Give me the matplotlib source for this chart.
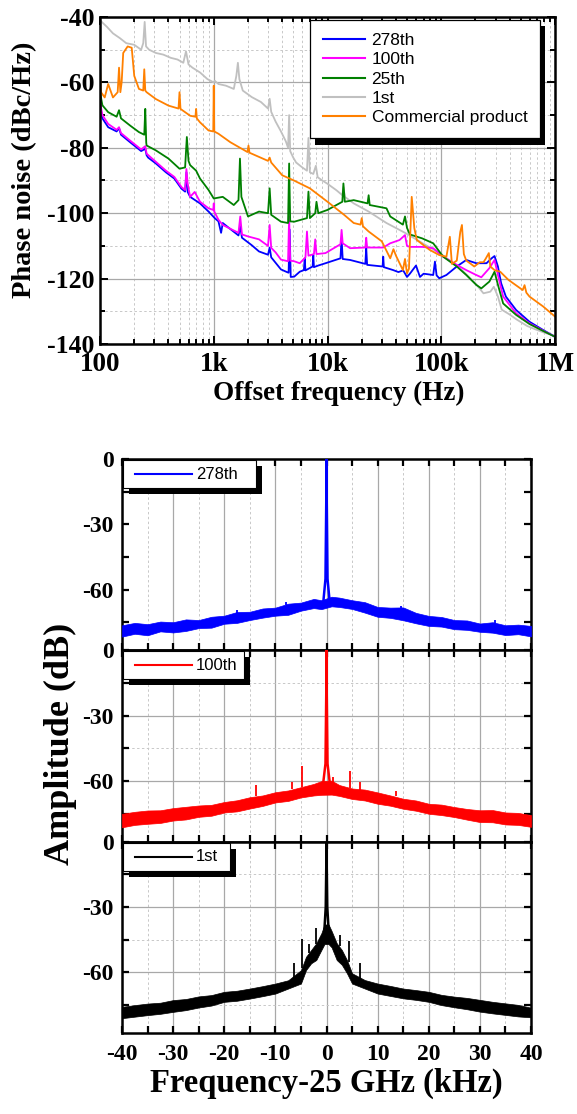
"""
Phase noise of the harmonics vs. a commercial synthesizer (top) and the
beat-note spectra around 25 GHz for three harmonics (bottom three panels).
"""

import numpy as np
import matplotlib as mpl
import matplotlib.pyplot as plt
from matplotlib.patches import Rectangle
from matplotlib.lines import Line2D
from matplotlib.ticker import MultipleLocator, FixedLocator, LogLocator, NullFormatter

# ---------------------------------------------------------------- top panel
# (offset frequency in Hz, phase noise in dBc/Hz)
PN_1ST = [
    (100, -41), (115, -43), (130, -45), (150, -46.5), (170, -48), (200, -48.5),
    (230, -50), (240, -48), (247, -41.5), (254, -49), (270, -50), (310, -51),
    (360, -51.5), (420, -52.5), (480, -53), (540, -54), (570, -50.5), (600, -54.5),
    (650, -55.5), (760, -57), (880, -59), (1000, -60), (1020, -59.5), (1100, -60.5),
    (1280, -61), (1500, -62), (1580, -58), (1630, -54), (1680, -59), (1800, -62.5),
    (2160, -64.5), (2600, -66), (3000, -68), (3100, -65), (3200, -69), (3500, -72),
    (3900, -75), (4300, -78), (4500, -80), (4600, -70), (4700, -81), (5000, -83),
    (5300, -84.5), (6000, -86), (6600, -87), (6800, -77), (7000, -87.5), (7500, -88),
    (7900, -85.5), (8200, -89), (9000, -90), (10000, -91), (12000, -93),
    (13500, -94.5), (13800, -92), (14200, -95), (17000, -97), (23000, -99.5),
    (33000, -103), (48000, -106), (71000, -109.5), (100000, -112.5),
    (148000, -117), (200000, -121.5), (235000, -124.5), (270000, -124),
    (290000, -122.5), (315000, -125.5), (340000, -129.5), (400000, -131),
    (460000, -132.5), (570000, -134.5), (670000, -135.5), (800000, -136.5),
    (1000000, -137.5),
]

PN_278TH = [
    (100, -67), (105, -71), (118, -73.7), (140, -75), (147, -74), (153, -76),
    (184, -78.3), (230, -81), (250, -80.3), (257, -82.3), (265, -83), (310, -84.8),
    (380, -87.5), (450, -89.4), (520, -92.5), (560, -93.4), (575, -87.5),
    (590, -93.5), (620, -95), (757, -97), (900, -99.5), (1020, -101.5),
    (1100, -102.5), (1160, -106), (1200, -103), (1370, -104.6), (1650, -106.8),
    (1710, -104), (1770, -107.5), (2160, -109.8), (2500, -111.7), (3000, -112.7),
    (3100, -110.5), (3200, -113.5), (3900, -117.2), (4400, -118), (4550, -118.2),
    (4650, -105), (4750, -119.5), (5100, -119.4), (5700, -117.9), (6200, -117.4),
    (6300, -113.8), (6400, -117.5), (7400, -116.3), (7500, -112.8), (7600, -116.5),
    (8300, -116), (9600, -115.3), (13000, -113.8), (13300, -107.7), (13600, -114),
    (15800, -114.3), (21500, -115.5), (21900, -110.6), (22300, -115.8),
    (30500, -116.3), (30900, -113.3), (31300, -116.5), (37800, -117.4),
    (42000, -118), (46300, -117.5), (50000, -119.5), (53000, -118.5),
    (60000, -116), (65000, -119.5), (70000, -118.5), (85000, -118.9),
    (88000, -114.8), (91000, -119), (96000, -119.9), (111000, -118.9),
    (137000, -116.3), (166000, -114.3), (203000, -115.3), (250000, -115.3),
    (277000, -113.8), (294000, -113.1), (315000, -116.3), (336000, -121.4),
    (370000, -125.5), (455000, -129.6), (597000, -133.2), (785000, -135.7),
    (1000000, -137.8),
]

PN_100TH = [
    (100, -66), (105, -70), (118, -72.7), (140, -74.5), (147, -73.7), (153, -75.5),
    (184, -77.8), (230, -80.5), (250, -79.5), (257, -81.8), (310, -84.3),
    (380, -87), (450, -88.9), (520, -92), (560, -92.9), (575, -86.5), (590, -91),
    (620, -95), (680, -93.5), (757, -96.5), (900, -98.5), (990, -99), (1000, -97),
    (1010, -99.5), (1100, -102), (1200, -103.6), (1370, -104.6), (1650, -106),
    (1710, -101), (1770, -106.5), (2000, -107.1), (2500, -108), (3000, -110),
    (3100, -103.6), (3200, -110.6), (3500, -112), (3900, -114.2), (4500, -114.7),
    (4600, -101), (4700, -114.5), (5100, -114.7), (5700, -115.3), (6400, -113.5),
    (6600, -105.6), (6800, -113), (7600, -112.5), (7800, -108), (8000, -112.5),
    (9600, -112.2), (13000, -109.5), (13300, -105.1), (13600, -109.2),
    (15800, -110.7), (21500, -110.5), (21900, -107.5), (22300, -110.5),
    (30900, -110.5), (35600, -109.2), (43000, -108.2), (48000, -106.7),
    (50000, -110), (53000, -110.3), (68000, -110.3), (85000, -110.7),
    (104000, -113.3), (137000, -115.8), (166000, -117.4), (203000, -118.9),
    (225000, -119.6), (265000, -116.8), (294000, -114.3), (315000, -118.9),
    (350000, -125.5), (455000, -130.6), (597000, -133.7), (785000, -135.9),
    (1000000, -137.8),
]

PN_25TH = [
    (100, -63), (105, -67), (118, -69.1), (140, -70.5), (147, -68.5), (153, -71),
    (184, -73.2), (220, -75.2), (245, -76), (250, -68.1), (255, -78.5),
    (257, -79.3), (310, -80.8), (400, -83.3), (500, -86.4), (560, -86),
    (580, -76.7), (600, -84), (620, -85.3), (700, -87), (757, -89.4), (900, -92.9),
    (1000, -95.5), (1200, -95), (1500, -97.5), (1650, -96), (1700, -83.3),
    (1750, -95), (2000, -101), (2500, -99.5), (3000, -100), (3100, -92.4),
    (3200, -100.5), (3900, -102.6), (4500, -103), (4600, -84.8), (4700, -102.5),
    (5100, -102.6), (6600, -101.5), (6800, -93.4), (7000, -101.5), (7800, -100),
    (8000, -96.5), (8300, -100), (10000, -99), (13500, -96.5), (13800, -90.9),
    (14200, -96.5), (17000, -96), (22500, -97), (23000, -94.5), (23500, -97.5),
    (33000, -98.5), (35600, -101), (46000, -103.5), (48000, -101),
    (50000, -104.5), (53000, -106.5), (68000, -107.7), (85000, -109.2),
    (104000, -113.3), (137000, -116.3), (166000, -118.9), (203000, -121.9),
    (225000, -123), (265000, -120.9), (294000, -117.9), (315000, -121.9),
    (350000, -127.6), (455000, -131.1), (597000, -133.9), (785000, -136),
    (1000000, -137.8),
]

PN_COMMERCIAL = [
    (100, -55), (102, -63), (110, -64.6), (118, -60.5), (130, -64.6), (143, -63),
    (147, -55.5), (151, -63), (155, -60), (160, -51), (175, -49), (190, -49.4),
    (200, -58), (220, -62), (240, -62.5), (245, -56), (250, -62.5), (257, -63),
    (310, -65.1), (400, -67.1), (490, -68), (500, -63), (510, -68.1), (620, -70.2),
    (690, -70.5), (700, -68.1), (710, -71), (757, -72.2), (900, -74.7), (990, -75),
    (1000, -61), (1010, -75), (1100, -75.7), (1400, -78.3), (1980, -81.3),
    (2020, -79.3), (2060, -81.5), (3000, -84), (3100, -83), (3200, -84.5),
    (4000, -88.4), (5000, -89.9), (7000, -92.4), (10000, -96.5), (14000, -100.5),
    (17000, -103), (19500, -103.5), (20000, -101.5), (20500, -104),
    (23000, -105.6), (30000, -108.6), (35600, -113.8), (38000, -111),
    (40000, -113), (46000, -117.4), (48000, -114), (50000, -118.4),
    (52000, -117), (55000, -95), (58000, -104.6), (61000, -108.2),
    (79000, -111.2), (96000, -112.8), (111000, -113.3), (119000, -107.2),
    (124000, -115.5), (137000, -114.5), (147000, -105.7), (152000, -103.6),
    (158000, -112.5), (166000, -114.5), (182000, -115.5), (195000, -116.3),
    (218000, -115), (235000, -115), (245000, -114), (262000, -112.2),
    (270000, -116.3), (294000, -117.4), (330000, -117.9), (390000, -120.4),
    (520000, -123.5), (540000, -122), (560000, -124.3), (597000, -125.5),
    (785000, -128.5), (1000000, -131.6),
]

TOP_SERIES = [
    ("1st", PN_1ST, "#c0c0c0"),
    ("278th", PN_278TH, "#0000ff"),
    ("100th", PN_100TH, "#ff00ff"),
    ("25th", PN_25TH, "#008000"),
    ("Commercial product", PN_COMMERCIAL, "#ff8000"),
]
LEGEND_ORDER = ["278th", "100th", "25th", "1st", "Commercial product"]
TOP_XTICKS = [1e2, 1e3, 1e4, 1e5, 1e6]
TOP_XTICKLABELS = ["100", "1k", "10k", "100k", "1M"]

# ------------------------------------------------------------ bottom panels
# noise band (lower / upper envelope), carrier and spurs, kHz vs dB
ENV_X_SIDE = [-40, -37.5, -35, -32.5, -30, -27.5, -25, -22.5, -20, -17.5, -15, -12.5,
              -10, -7.5, -5, -2.5, -1, 1, 2.5, 5, 7.5, 10, 12.5, 15, 17.5, 20, 22.5,
              25, 27.5, 30, 32.5, 35, 37.5, 40]

ENV_HI_278 = [-76.3, -75.2, -75.8, -74.6, -74.9, -73.6, -73.9, -72.4, -71.9, -70.2,
              -70.1, -68.6, -68.2, -66.4, -65.9, -64.2, -64.8, -63.2, -63.6, -64.8,
              -65.7, -67.9, -68.2, -68.1, -70.6, -72.0, -72.5, -73.9, -74.1, -75.5,
              -74.9, -76.3, -76.0, -76.6]
ENV_LO_278 = [-81.5, -80.2, -80.9, -79.1, -79.6, -78.9, -77.6, -77.4, -75.6, -75.2,
              -73.9, -72.8, -71.9, -71.5, -69.6, -68.4, -68.9, -67.6, -67.9, -68.8,
              -70.5, -72.4, -72.9, -74.0, -75.4, -76.6, -76.9, -78.1, -78.4, -79.3,
              -79.7, -80.8, -80.4, -81.4]
CARRIER_X_278 = [-0.6, -0.2, -0.05, 0, 0.05, 0.2, 0.6]
CARRIER_Y_278 = [-65, -55, -20, 0, -20, -55, -65]
SPUR_X_278 = [-17.5, -8, 14.6, 33]
SPUR_BASE_278 = [-71, -67, -69, -75.5]
SPUR_PEAK_278 = [-69.5, -65.5, -67.5, -74]

ENV_HI_100 = [-75.0, -74.1, -73.5, -73.4, -72.4, -71.8, -71.2, -70.9, -69.6, -68.8,
              -67.4, -66.6, -65.1, -64.3, -62.8, -61.3, -60.0, -59.8, -61.8, -63.4,
              -63.9, -65.2, -66.6, -68.1, -68.9, -70.4, -70.8, -71.9, -72.8, -73.4,
              -73.3, -74.4, -74.6, -75.6]
ENV_LO_100 = [-81.2, -80.1, -79.6, -79.2, -78.1, -77.6, -76.4, -75.9, -74.4, -73.9,
              -72.6, -71.4, -69.8, -69.1, -67.5, -66.6, -66.3, -66.2, -66.8, -68.2,
              -68.9, -70.4, -71.3, -72.7, -73.6, -75.0, -75.6, -76.5, -77.7, -78.8,
              -78.9, -79.9, -80.1, -81.0]
CARRIER_X_100 = [-0.6, -0.2, -0.05, 0, 0.05, 0.2, 0.6]
CARRIER_Y_100 = [-60, -52, -20, 0, -20, -52, -60]
SPUR_X_100 = [-13.8, -6.8, -4.7, 1.3, 4.5, 6.6, 13.6]
SPUR_BASE_100 = [-67, -63.5, -62.5, -61, -63, -64, -67]
SPUR_PEAK_100 = [-62, -60.5, -53, -58, -55.5, -60.4, -64.7]

ENV_X_1 = [-40, -37.5, -35, -32.5, -30, -27.5, -25, -22.5, -20, -17.5, -15, -12.5,
           -10, -7.5, -5, -4, -3, -2, -1, -0.4, 0.4, 1, 2, 3, 4, 5, 7.5, 10, 12.5,
           15, 17.5, 20, 22.5, 25, 27.5, 30, 32.5, 35, 37.5, 40]
ENV_HI_1 = [-75.8, -75.0, -74.3, -73.9, -72.7, -72.2, -71.0, -70.4, -68.9, -68.4,
            -67.4, -66.3, -65.1, -63.6, -59.0, -52.8, -49.7, -46.6, -42.0, -38.0,
            -38.0, -41.0, -46.6, -49.7, -54.3, -60.4, -63.5, -65.1, -66.2, -67.4,
            -68.1, -68.9, -70.3, -71.1, -71.7, -72.6, -73.5, -74.2, -74.9, -76.2]
ENV_LO_1 = [-81.0, -80.3, -79.6, -79.0, -78.1, -77.3, -76.1, -75.2, -73.5, -73.0,
            -72.0, -70.9, -69.7, -67.4, -65.1, -58.9, -55.8, -54.3, -49.7, -47.0,
            -47.0, -48.5, -54.3, -56.5, -60.4, -65.1, -67.4, -69.7, -70.8, -71.9,
            -72.6, -73.5, -75.0, -76.0, -76.9, -78.0, -78.8, -79.5, -80.2, -80.6]
CARRIER_X_1 = [-0.4, -0.15, -0.05, 0, 0.05, 0.15, 0.4]
CARRIER_Y_1 = [-40, -30, -12, 0, -12, -30, -40]
SPUR_X_1 = [-6.3, -4.7, -3.5, -2.0, 2.6, 4.4, 6.6]
SPUR_BASE_1 = [-64, -58, -51, -47, -48, -55, -63]
SPUR_PEAK_1 = [-55.8, -44.8, -47, -39.8, -43, -45.7, -55.8]

# (label, colour, envelope x/lo/hi, carrier x/y, spur x/base/peak, horizontal grid)
PANELS = [
    ("278th", "#0000ff", ENV_X_SIDE, ENV_LO_278, ENV_HI_278, CARRIER_X_278, CARRIER_Y_278,
     SPUR_X_278, SPUR_BASE_278, SPUR_PEAK_278, False),
    ("100th", "#ff0000", ENV_X_SIDE, ENV_LO_100, ENV_HI_100, CARRIER_X_100, CARRIER_Y_100,
     SPUR_X_100, SPUR_BASE_100, SPUR_PEAK_100, True),
    ("1st", "#000000", ENV_X_1, ENV_LO_1, ENV_HI_1, CARRIER_X_1, CARRIER_Y_1,
     SPUR_X_1, SPUR_BASE_1, SPUR_PEAK_1, True),
]
# legend box right edge per panel, in axes pixels
LEGEND_BOX_RIGHT = {"278th": 134, "100th": 122, "1st": 108}

SERIF = "Liberation Serif"
SANS = "Liberation Sans"
W_PX, H_PX = 577, 1114
GRID_MAJOR = dict(color="#a8a8a8", lw=0.9, ls="-")
GRID_MINOR = dict(color="#c8c8c8", lw=0.7, ls=(0, (2.5, 2.5)))


def _bold_ticks(ax, size):
    for lab in ax.get_xticklabels() + ax.get_yticklabels():
        lab.set_fontfamily(SERIF)
        lab.set_fontweight("bold")
        lab.set_fontsize(size)


def plot_top(fig):
    ax = fig.add_axes([100 / W_PX, 1 - 344 / H_PX, 455 / W_PX, 327 / H_PX])
    handles = {}
    for name, pts, col in TOP_SERIES:
        f, pn = np.array(pts).T
        handles[name], = ax.plot(f, pn, color=col, lw=1.3, label=name)

    ax.set_xscale("log")
    ax.set_xlim(1e2, 1e6)
    ax.set_ylim(-140, -40)
    ax.xaxis.set_major_locator(FixedLocator(TOP_XTICKS))
    ax.set_xticklabels(TOP_XTICKLABELS)
    ax.xaxis.set_minor_locator(LogLocator(base=10, subs=np.arange(2, 10)))
    ax.xaxis.set_minor_formatter(NullFormatter())
    ax.yaxis.set_major_locator(MultipleLocator(20))
    ax.yaxis.set_minor_locator(MultipleLocator(10))
    ax.grid(which="major", **GRID_MAJOR)
    ax.grid(which="minor", **GRID_MINOR)
    ax.set_axisbelow(True)
    ax.tick_params(which="both", direction="in", top=True, right=True, width=1.4)
    ax.tick_params(which="major", length=6)
    ax.tick_params(which="minor", length=3.5)
    ax.tick_params(axis="x", pad=6)
    ax.tick_params(axis="y", pad=4)
    for sp in ax.spines.values():
        sp.set_linewidth(1.8)
    _bold_ticks(ax, 18.5)
    for lab in ax.get_xticklabels():
        lab.set_fontsize(19.5)

    leg = ax.legend([handles[n] for n in LEGEND_ORDER], LEGEND_ORDER,
                    loc="upper left", bbox_to_anchor=(0.4615, 0.991),
                    borderaxespad=0, fancybox=False, framealpha=1,
                    edgecolor="black", handlelength=2.4, handletextpad=0.4,
                    labelspacing=0.24, borderpad=0.75,
                    prop=dict(family=SANS, size=12.5))
    leg.get_frame().set_linewidth(0.9)
    for ln in leg.get_lines():
        ln.set_linewidth(1.5)

    fig.canvas.draw()
    bb = leg.get_window_extent()
    ax.add_artist(Rectangle((bb.x0 + 5, bb.y0 - 6.5), bb.width, bb.height,
                            transform=None, fc="black", ec="none",
                            zorder=leg.get_zorder() - 0.5, clip_on=False))

    fig.text(339 / W_PX, 1 - 393 / H_PX, "Offset frequency (Hz)", ha="center",
             va="center", family=SERIF, weight="bold", size=19.5)
    fig.text(25 / W_PX, 1 - 170 / H_PX, "Phase noise (dBc/Hz)", ha="center",
             va="center", rotation=90, family=SERIF, weight="bold", size=20.5)


def box_legend(ax, label, color, ax_w, ax_h):
    right = LEGEND_BOX_RIGHT[label]
    tr = ax.transAxes
    x0, x1 = 0.7 / ax_w, right / ax_w
    y1, y0 = 1 - 1 / ax_h, 1 - 29 / ax_h
    ax.add_artist(Rectangle((x0 + 6 / ax_w, y0 - 6 / ax_h), x1 - x0, y1 - y0,
                            transform=tr, fc="black", ec="none", zorder=6, clip_on=False))
    ax.add_artist(Rectangle((x0, y0), x1 - x0, y1 - y0, transform=tr, fc="white",
                            ec="black", lw=0.8, zorder=7))
    ly = 1 - 15 / ax_h
    ax.add_artist(Line2D([13 / ax_w, 70 / ax_w], [ly, ly], transform=tr,
                         color=color, lw=1.5, zorder=8))
    ax.text(74 / ax_w, ly, label, ha="left", va="center", transform=tr,
            family=SANS, size=12, zorder=9)


def plot_bottom(fig):
    left, right, top, bottom = 122, 531, 459, 1033
    ax_w = right - left
    ax_h = (bottom - top) / 3
    axes = []
    for i, (label, col, ex, lo, hi, cx, cy, sx, sb, sp, hgrid) in enumerate(PANELS):
        y_top = top + i * ax_h
        ax = fig.add_axes([left / W_PX, 1 - (y_top + ax_h) / H_PX, ax_w / W_PX, ax_h / H_PX])
        ax.fill_between(ex, lo, hi, color=col, lw=0.5, zorder=3)
        ax.plot(cx, cy, color=col, lw=1.8, zorder=4)
        ax.vlines(sx, sb, sp, color=col, lw=1.3, zorder=4)

        ax.set_xlim(-40, 40)
        ax.set_ylim(-87.8, 0)
        ax.xaxis.set_major_locator(MultipleLocator(10))
        ax.xaxis.set_minor_locator(MultipleLocator(5))
        ax.yaxis.set_major_locator(MultipleLocator(30))
        ax.yaxis.set_minor_locator(MultipleLocator(15))
        ax.grid(which="major", axis="x", **GRID_MAJOR)
        ax.grid(which="minor", axis="x", **GRID_MINOR)
        if hgrid:
            ax.grid(which="major", axis="y", **GRID_MAJOR)
            ax.grid(which="minor", axis="y", **GRID_MINOR)
        ax.set_axisbelow(True)
        ax.tick_params(which="both", direction="in", top=True, right=True,
                       width=1.6, length=5)
        ax.tick_params(axis="x", pad=8)
        ax.tick_params(axis="y", pad=6)
        if i < 2:
            ax.tick_params(axis="x", labelbottom=False)
        for s in ax.spines.values():
            s.set_linewidth(1.8)
        _bold_ticks(ax, 17)
        box_legend(ax, label, col, ax_w, ax_h)
        axes.append(ax)

    fig.text(326 / W_PX, 1 - 1083 / H_PX, "Frequency-25 GHz (kHz)", ha="center",
             va="center", family=SERIF, weight="bold", size=23.5)
    fig.text(60 / W_PX, 1 - 744 / H_PX, "Amplitude (dB)", ha="center",
             va="center", rotation=90, family=SERIF, weight="bold", size=26)
    return axes


if __name__ == "__main__":
    mpl.rcParams.update({"font.family": SERIF, "axes.unicode_minus": False})
    fig = plt.figure(figsize=(W_PX / 100, H_PX / 100), dpi=100)
    plot_bottom(fig)
    plot_top(fig)
    fig.savefig("out.png", dpi=100)
    plt.close(fig)
